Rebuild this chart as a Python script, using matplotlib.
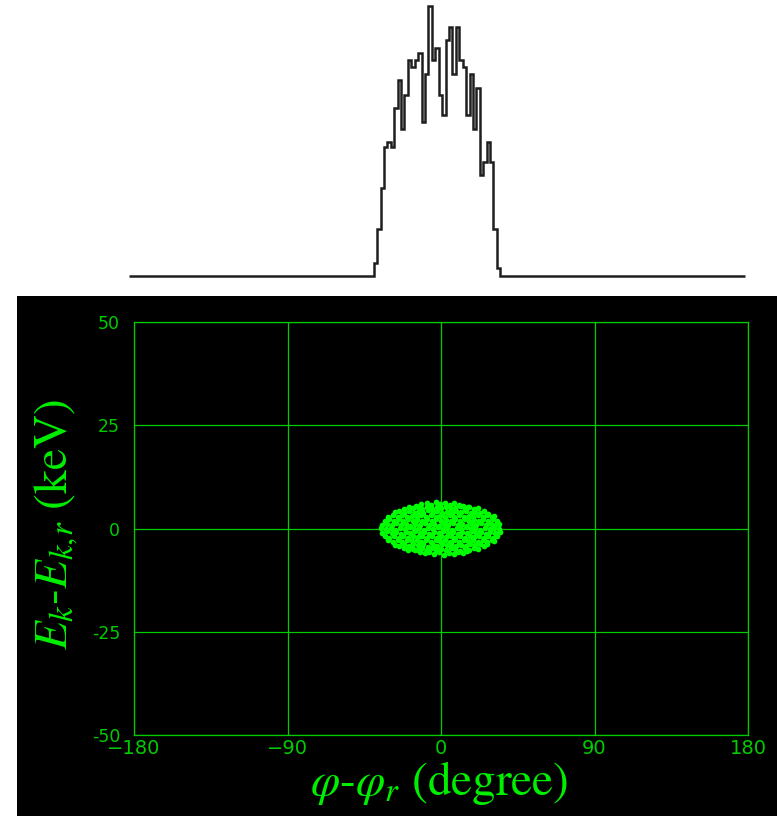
import numpy as np
import matplotlib.pyplot as plt
from matplotlib.patches import Rectangle

# phase histogram (2 degree bins, counts per bin)
hist_edges = np.arange(-37, 38, 2)
hist_counts = [13, 47, 88, 129, 134, 129, 168, 196, 147, 181, 216, 209, 216,
               223, 154, 202, 270, 216, 228, 181, 161, 236, 249, 202, 249, 216,
               209, 161, 202, 147, 188, 101, 114, 134, 114, 47, 8]

# bunch particles: phase offset (degree) and energy offset (keV)
cloud = [
    (-14.5, 5.5), (-11.5, 5.9), (-8.2, 6.2), (-5.6, 5.8), (-2.9, 6.3), (-0.4, 5.9),
    (2.3, 6.2), (5.1, 5.8), (7.8, 6.1), (10.6, 5.7), (12.9, 5.5), (15.6, 5.3),
    (-21.8, 4.8), (-19.0, 5.2), (-16.3, 4.9), (-13.4, 5.3), (-10.9, 4.7), (-8.0, 5.1),
    (-5.2, 4.8), (-2.6, 5.3), (0.2, 4.9), (3.0, 5.2), (5.7, 4.7), (8.4, 5.0),
    (11.1, 5.4), (13.9, 4.8), (16.5, 5.1), (19.3, 4.7), (21.6, 5.0),
    (-27.0, 3.9), (-24.4, 4.3), (-21.5, 3.8), (-18.8, 4.2), (-16.1, 3.7), (-13.2, 4.1),
    (-10.4, 3.8), (-7.7, 4.4), (-4.8, 3.9), (-2.1, 4.2), (0.7, 3.7), (3.5, 4.1),
    (6.2, 3.8), (9.0, 4.3), (11.8, 3.9), (14.5, 4.2), (17.3, 3.7), (20.0, 4.1),
    (22.8, 3.8), (25.4, 4.2), (27.3, 3.6),
    (-30.8, 2.9), (-28.1, 3.3), (-25.3, 2.8), (-22.6, 3.2), (-19.7, 2.7), (-17.0, 3.1),
    (-14.2, 2.8), (-11.5, 3.3), (-8.6, 2.9), (-5.9, 3.2), (-3.1, 2.7), (-0.3, 3.1),
    (2.4, 2.8), (5.2, 3.3), (7.9, 2.9), (10.7, 3.2), (13.4, 2.7), (16.2, 3.1),
    (19.0, 2.8), (21.7, 3.3), (24.5, 2.9), (27.2, 3.2), (29.8, 2.7), (31.0, 3.0),
    (-33.1, 1.9), (-30.4, 2.2), (-27.6, 1.8), (-24.9, 2.3), (-22.1, 1.9), (-19.3, 2.2),
    (-16.6, 1.7), (-13.8, 2.1), (-11.0, 1.8), (-8.3, 2.3), (-5.5, 1.9), (-2.7, 2.2),
    (0.1, 1.7), (2.8, 2.1), (5.6, 1.8), (8.4, 2.3), (11.1, 1.9), (13.9, 2.2),
    (16.7, 1.7), (19.4, 2.1), (22.2, 1.8), (24.9, 2.3), (27.7, 1.9), (30.4, 2.2), (32.9, 1.8),
    (-34.4, 0.9), (-31.7, 1.2), (-28.9, 0.8), (-26.2, 1.3), (-23.4, 0.9), (-20.6, 1.2),
    (-17.9, 0.7), (-15.1, 1.1), (-12.3, 0.8), (-9.6, 1.3), (-6.8, 0.9), (-4.0, 1.2),
    (-1.3, 0.7), (1.5, 1.1), (4.3, 0.8), (7.0, 1.3), (9.8, 0.9), (12.5, 1.2),
    (15.3, 0.7), (18.1, 1.1), (20.8, 0.8), (23.6, 1.3), (26.3, 0.9), (29.1, 1.2),
    (31.8, 0.8), (34.2, 1.0),
    (-35.0, 0.1), (-32.3, -0.2), (-29.5, 0.2), (-26.8, -0.3), (-24.0, 0.1), (-21.2, -0.2),
    (-18.5, 0.3), (-15.7, -0.1), (-12.9, 0.2), (-10.2, -0.3), (-7.4, 0.1), (-4.6, -0.2),
    (-1.9, 0.3), (0.9, -0.1), (3.7, 0.2), (6.4, -0.3), (9.2, 0.1), (11.9, -0.2),
    (14.7, 0.3), (17.5, -0.1), (20.2, 0.2), (23.0, -0.3), (25.7, 0.1), (28.5, -0.2),
    (31.2, 0.2), (34.0, -0.1),
    (-34.5, -1.0), (-31.8, -0.7), (-29.0, -1.2), (-26.3, -0.8), (-23.5, -1.3), (-20.7, -0.9),
    (-18.0, -1.2), (-15.2, -0.7), (-12.4, -1.1), (-9.7, -0.8), (-6.9, -1.3), (-4.1, -0.9),
    (-1.4, -1.2), (1.4, -0.7), (4.2, -1.1), (6.9, -0.8), (9.7, -1.3), (12.4, -0.9),
    (15.2, -1.2), (18.0, -0.7), (20.7, -1.1), (23.5, -0.8), (26.2, -1.3), (29.0, -0.9),
    (31.7, -1.2), (34.3, -0.8),
    (-33.0, -1.9), (-30.3, -2.2), (-27.5, -1.8), (-24.8, -2.3), (-22.0, -1.9), (-19.2, -2.2),
    (-16.5, -1.7), (-13.7, -2.1), (-10.9, -1.8), (-8.2, -2.3), (-5.4, -1.9), (-2.6, -2.2),
    (0.2, -1.7), (2.9, -2.1), (5.7, -1.8), (8.5, -2.3), (11.2, -1.9), (14.0, -2.2),
    (16.8, -1.7), (19.5, -2.1), (22.3, -1.8), (25.0, -2.3), (27.8, -1.9), (30.5, -2.2), (33.0, -1.8),
    (-30.9, -2.9), (-28.2, -3.3), (-25.4, -2.8), (-22.7, -3.2), (-19.8, -2.7), (-17.1, -3.1),
    (-14.3, -2.8), (-11.6, -3.3), (-8.7, -2.9), (-6.0, -3.2), (-3.2, -2.7), (-0.4, -3.1),
    (2.3, -2.8), (5.1, -3.3), (7.8, -2.9), (10.6, -3.2), (13.3, -2.7), (16.1, -3.1),
    (18.9, -2.8), (21.6, -3.3), (24.4, -2.9), (27.1, -3.2), (29.7, -2.7), (31.1, -3.0),
    (-27.1, -3.9), (-24.5, -4.3), (-21.6, -3.8), (-18.9, -4.2), (-16.2, -3.7), (-13.3, -4.1),
    (-10.5, -3.8), (-7.8, -4.4), (-4.9, -3.9), (-2.2, -4.2), (0.6, -3.7), (3.4, -4.1),
    (6.1, -3.8), (8.9, -4.3), (11.7, -3.9), (14.4, -4.2), (17.2, -3.7), (19.9, -4.1),
    (22.7, -3.8), (25.3, -4.2), (27.2, -3.7),
    (-21.9, -4.8), (-19.1, -5.2), (-16.4, -4.9), (-13.5, -5.3), (-11.0, -4.7), (-8.1, -5.1),
    (-5.3, -4.8), (-2.7, -5.3), (0.1, -4.9), (2.9, -5.2), (5.6, -4.7), (8.3, -5.0),
    (11.0, -5.4), (13.8, -4.8), (16.4, -5.1), (19.2, -4.7), (21.7, -5.0),
    (-15.0, -5.3), (-12.5, -5.6), (-9.6, -6.0), (-6.8, -5.7), (-3.9, -6.2), (-1.0, -5.8),
    (1.8, -6.3), (4.6, -5.9), (7.4, -6.1), (10.2, -5.7), (13.0, -5.9), (15.5, -5.4),
]
phi_pts = np.array([p[0] for p in cloud])
dE_pts = np.array([p[1] for p in cloud])

x_ticks = [-180, -90, 0, 90, 180]
x_ticklabels = ['\u2212180', '\u221290', '0', '90', '180']
y_ticks = [-50, -25, 0, 25, 50]
y_ticklabels = ['-50', '-25', '0', '25', '50']

grid_green = '#00cc00'
text_green = '#00ee00'
dot_green = '#00ff00'

plt.rcParams['mathtext.fontset'] = 'stix'

fig = plt.figure(figsize=(7.77, 8.16), dpi=100)
fig.patch.set_facecolor('white')
fig.add_artist(Rectangle((17/777, 0), 760/777, 520/816, transform=fig.transFigure,
                         facecolor='black', edgecolor='none', zorder=0))

# top: phase histogram
axh = fig.add_axes([129/777, 540/816, 616/777, 270/816])
axh.stairs([0] + hist_counts + [0], np.concatenate([[-180], hist_edges, [180]]),
           color='#1e1e1e', lw=1.8, clip_on=False)
axh.set_xlim(-180, 180)
axh.set_ylim(0, 270)
axh.axis('off')

# bottom: longitudinal phase space
ax = fig.add_axes([134/777, 81/816, 614/777, 413/816])
ax.set_facecolor('black')
ax.plot(phi_pts, dE_pts, 'o', ms=4.1, mew=0, color=dot_green)
ax.set_xlim(-180, 180)
ax.set_ylim(-50, 50)
ax.set_xticks(x_ticks)
ax.set_yticks(y_ticks)
ax.set_xticklabels(x_ticklabels, fontsize=14, color=grid_green)
ax.set_yticklabels(y_ticklabels, fontsize=12.5, color=grid_green)
ax.tick_params(length=0, pad=3)
ax.tick_params(axis='y', pad=10)
ax.grid(True, color=grid_green, lw=0.9)
for s in ax.spines.values():
    s.set_color(grid_green)
    s.set_linewidth(0.9)

fig.text(439/777, 1 - 783/816, r'$\varphi$-$\varphi_r$ (degree)', fontsize=34,
         family='STIXGeneral', color=text_green, ha='center', va='center')
fig.text(56/777, 1 - 525/816, r'$E_k$-$E_{k,\!r}$ (keV)', fontsize=34,
         family='STIXGeneral', color=text_green, ha='center', va='center', rotation=90)

fig.savefig('out.png', dpi=100)
